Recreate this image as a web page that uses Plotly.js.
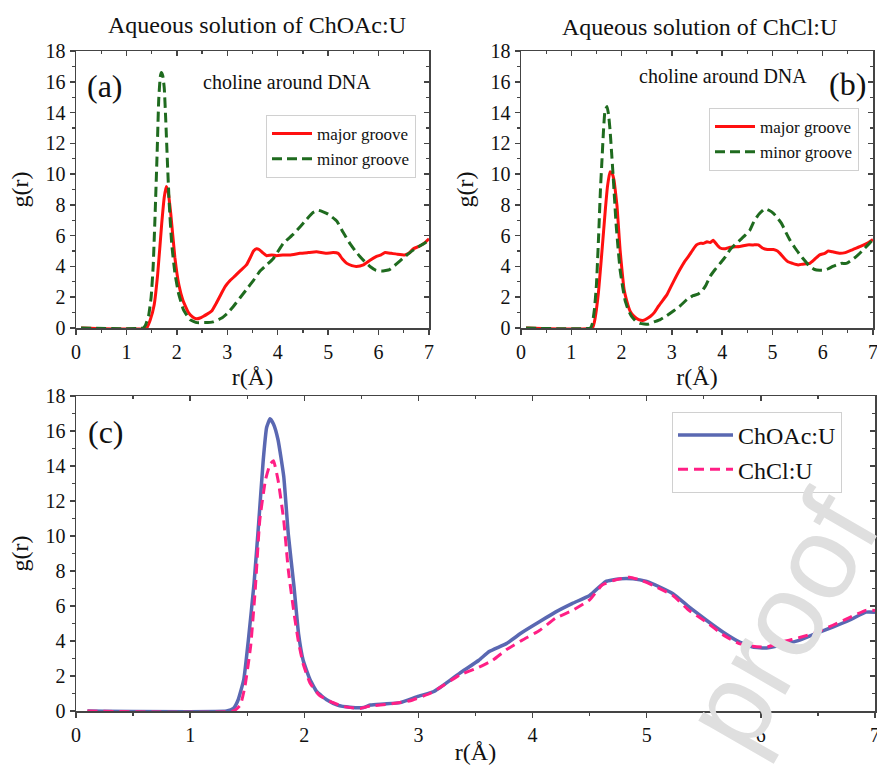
<!DOCTYPE html>
<html>
<head>
<meta charset="utf-8">
<script src="https://cdn.plot.ly/plotly-3.0.1.min.js"></script>
<style>html,body{margin:0;padding:0;background:#fff;}#chart{width:877px;height:765px;}</style>
</head>
<body>
<div id="chart"></div>
<script>
// ---------- Data ----------
// Panel (a): aqueous ChOAc:U, choline around DNA
const aMajorR = [0.1,1.4,1.47,1.55,1.62,1.70,1.75,1.79,1.83,1.88,1.96,2.04,2.12,2.23,2.32,2.39,2.46,2.52,2.6,2.69,2.78,2.86,2.96,3.06,3.16,3.25,3.38,3.46,3.52,3.58,3.63,3.7,3.78,3.88,3.98,4.1,4.24,4.44,4.6,4.77,4.95,5.1,5.2,5.28,5.37,5.47,5.56,5.7,5.83,5.96,6.05,6.13,6.25,6.36,6.52,6.6,6.69,6.8,6.9,7.0];
const aMajorG = [0,0,0.5,1.5,3.5,6.8,8.5,9.2,8.8,7.4,4.6,2.8,1.8,1.0,0.7,0.6,0.65,0.75,0.9,1.1,1.6,2.1,2.7,3.1,3.4,3.7,4.1,4.6,5.0,5.15,5.1,4.9,4.7,4.75,4.7,4.75,4.75,4.85,4.9,4.95,4.85,4.9,4.85,4.5,4.2,4.05,4.0,4.1,4.4,4.65,4.75,4.9,4.85,4.8,4.75,4.85,5.15,5.3,5.5,5.8];
const aMinorR = [0.1,1.33,1.38,1.44,1.49,1.53,1.57,1.61,1.64,1.67,1.69,1.72,1.75,1.78,1.81,1.85,1.9,1.96,2.03,2.13,2.26,2.4,2.55,2.72,2.89,3.0,3.12,3.25,3.38,3.52,3.65,3.78,3.91,4.01,4.11,4.31,4.45,4.57,4.7,4.8,4.9,5.0,5.17,5.3,5.43,5.53,5.63,5.73,5.83,5.95,6.06,6.22,6.35,6.49,6.62,6.75,6.88,7.0];
const aMinorG = [0,0,0.2,0.8,2.0,4.0,7.5,11.5,14.8,16.3,16.6,16.4,15.6,13.5,11.0,8.0,5.4,3.6,2.3,1.2,0.55,0.35,0.35,0.4,0.65,0.95,1.4,1.95,2.5,3.1,3.7,4.1,4.5,5.0,5.5,6.1,6.6,7.05,7.5,7.65,7.55,7.4,6.95,6.2,5.5,5.05,4.65,4.3,4.0,3.75,3.7,3.8,4.15,4.55,4.9,5.2,5.45,5.7];

// Panel (b): aqueous ChCl:U, choline around DNA
const bMajorR = [0.1,1.42,1.46,1.5,1.54,1.59,1.64,1.68,1.72,1.77,1.81,1.85,1.88,1.91,1.94,1.97,2.01,2.05,2.1,2.17,2.25,2.34,2.44,2.5,2.57,2.65,2.73,2.82,2.9,3.03,3.16,3.25,3.33,3.42,3.49,3.56,3.63,3.7,3.76,3.82,3.9,3.96,4.06,4.16,4.35,4.5,4.62,4.72,4.8,4.9,5.02,5.1,5.15,5.23,5.31,5.4,5.51,5.6,5.74,5.85,5.94,6.04,6.11,6.2,6.34,6.45,6.6,6.75,6.88,7.0];
const bMajorG = [0,0,0.4,1.2,2.3,4.2,6.2,7.8,9.2,10.15,10.05,9.6,8.8,7.9,6.5,5.1,3.7,2.5,1.8,1.1,0.75,0.55,0.5,0.6,0.75,1.0,1.4,1.8,2.15,3.0,3.8,4.3,4.65,5.1,5.4,5.5,5.5,5.6,5.55,5.7,5.4,5.2,5.15,5.25,5.3,5.4,5.4,5.4,5.2,5.1,5.1,5.0,4.85,4.55,4.3,4.2,4.1,4.15,4.2,4.5,4.75,4.85,5.0,4.95,4.85,4.9,5.1,5.3,5.5,5.75];
const bMinorR = [0.1,1.38,1.42,1.46,1.5,1.54,1.58,1.61,1.64,1.67,1.71,1.74,1.77,1.8,1.83,1.86,1.89,1.93,1.97,2.02,2.07,2.13,2.2,2.28,2.37,2.53,2.65,2.77,2.9,3.03,3.17,3.3,3.42,3.52,3.6,3.68,3.76,3.86,3.96,4.06,4.16,4.25,4.35,4.45,4.55,4.63,4.72,4.85,4.93,5.02,5.1,5.18,5.27,5.35,5.45,5.55,5.65,5.74,5.84,5.94,6.03,6.11,6.2,6.27,6.37,6.47,6.57,6.67,6.78,6.9,7.0];
const bMinorG = [0,0,0.3,1.2,2.8,5.7,9.0,10.9,12.8,14.1,14.4,13.9,12.9,11.5,10.0,8.4,6.8,5.2,3.8,2.7,1.8,1.2,0.75,0.45,0.3,0.25,0.4,0.55,0.8,1.1,1.45,1.85,2.1,2.2,2.4,2.8,3.35,3.8,4.2,4.6,5.1,5.4,5.7,6.0,6.35,6.9,7.35,7.75,7.65,7.45,7.15,6.8,6.2,5.7,5.2,4.75,4.35,4.0,3.8,3.75,3.75,3.85,4.0,4.1,4.2,4.2,4.4,4.65,5.0,5.4,5.75];

// Panel (c): minor groove comparison
const cChOAcR = [0.1,1.32,1.38,1.42,1.47,1.51,1.56,1.6,1.64,1.67,1.7,1.73,1.77,1.82,1.86,1.91,1.95,1.99,2.05,2.11,2.2,2.29,2.4,2.52,2.58,2.7,2.84,2.99,3.13,3.18,3.36,3.53,3.62,3.77,3.91,4.06,4.2,4.35,4.5,4.64,4.76,4.88,5.0,5.11,5.23,5.37,5.52,5.67,5.81,5.93,6.05,6.19,6.34,6.49,6.63,6.78,6.92,7.0];
const cChOAcG = [0,0,0.15,0.63,1.8,4.05,7.3,10.7,14.3,16.2,16.7,16.4,15.5,13.4,10.1,7.1,4.4,2.9,1.8,1.1,0.63,0.34,0.22,0.2,0.34,0.4,0.48,0.82,1.1,1.3,2.15,2.9,3.4,3.85,4.5,5.1,5.65,6.15,6.6,7.4,7.55,7.55,7.4,7.1,6.7,5.95,5.2,4.5,3.95,3.65,3.6,3.8,4.05,4.45,4.8,5.2,5.65,5.65];
const cChClR = [0.1,1.38,1.44,1.48,1.53,1.57,1.61,1.66,1.7,1.73,1.77,1.82,1.86,1.91,1.95,1.99,2.05,2.13,2.23,2.35,2.49,2.58,2.75,2.93,3.1,3.18,3.36,3.53,3.65,3.77,3.91,4.06,4.2,4.35,4.5,4.61,4.73,4.85,4.96,5.08,5.23,5.37,5.52,5.67,5.81,5.93,6.05,6.19,6.34,6.49,6.63,6.78,6.92,7.0];
const cChClG = [0,0,0.34,1.4,3.7,6.9,10.9,13.2,14.1,14.3,13.2,10.9,8.05,5.6,3.9,2.7,1.6,0.91,0.53,0.25,0.15,0.29,0.4,0.59,1.0,1.3,2.05,2.5,2.9,3.5,4.05,4.6,5.3,5.75,6.35,7.2,7.5,7.65,7.45,7.1,6.6,5.75,5.1,4.35,3.85,3.7,3.65,3.95,4.2,4.5,4.9,5.35,5.75,5.75];

const xTicks = [0,1,2,3,4,5,6,7];
const yTicks = [0,2,4,6,8,10,12,14,16,18];

// ---------- Styling ----------
const F = '"Liberation Serif", "Times New Roman", serif';
const AX = '#444444';
const RED = '#ff1010', GREEN = '#1f6b1f', BLUE = '#5a68b2', PINK = '#ff1f85';

function line(x, y, name, color, dash, xa, ya, legend, width) {
  return {type:'scatter', mode:'lines', x:x, y:y, name:name, xaxis:xa, yaxis:ya, legend:legend,
    line:{color:color, width:width||3, dash:dash, shape:'spline', smoothing:0.4}, hoverinfo:'skip'};
}
function dummy(xa, ya) {
  return {type:'scatter', mode:'lines', x:[], y:[], xaxis:xa, yaxis:ya, showlegend:false, hoverinfo:'skip'};
}

const traces = [
  line(aMajorR, aMajorG, 'major groove', RED, 'solid', 'x', 'y', 'legend'),
  line(aMinorR, aMinorG, 'minor groove', GREEN, '10px,5px', 'x', 'y', 'legend'),
  line(bMajorR, bMajorG, 'major groove', RED, 'solid', 'x2', 'y2', 'legend2'),
  line(bMinorR, bMinorG, 'minor groove', GREEN, '10px,5px', 'x2', 'y2', 'legend2'),
  line(cChOAcR, cChOAcG, 'ChOAc:U', BLUE, 'solid', 'x3', 'y3', 'legend3', 3.5),
  line(cChClR, cChClG, 'ChCl:U', PINK, '10px,6px', 'x3', 'y3', 'legend3'),
  dummy('x4','y'), dummy('x','y4'),
  dummy('x5','y2'), dummy('x2','y5'),
  dummy('x6','y3'), dummy('x3','y6')
];

function mainX(domain, anchor, standoff) {
  return {domain:domain, anchor:anchor, range:[0,7], tickvals:xTicks, ticktext:xTicks.map(String),
    ticks:'outside', ticklen:5, tickwidth:1.5, tickcolor:AX, showline:true, linecolor:AX, linewidth:1.5,
    mirror:true, showgrid:false, zeroline:false, automargin:false, fixedrange:true,
    ticklabeloverflow:'allow',
    tickfont:{family:F, size:20, color:'#111'},
    minor:{dtick:0.5, tick0:0, ticks:'outside', ticklen:3, tickwidth:1.2, tickcolor:AX, showgrid:false},
    title:{text:'r(Å)', font:{family:F, size:24, color:'#111'}, standoff:standoff}};
}
function mainY(domain, anchor) {
  return {domain:domain, anchor:anchor, range:[0,18], tickvals:yTicks, ticktext:yTicks.map(String),
    ticks:'outside', ticklen:5, tickwidth:1.5, tickcolor:AX, showline:true, linecolor:AX, linewidth:1.5,
    mirror:true, showgrid:false, zeroline:false, automargin:false, fixedrange:true,
    ticklabeloverflow:'allow',
    tickfont:{family:F, size:20, color:'#111'},
    minor:{dtick:1, tick0:0, ticks:'outside', ticklen:3, tickwidth:1.2, tickcolor:AX, showgrid:false},
    title:{text:'g(r)', font:{family:F, size:24, color:'#111'}, standoff:10}};
}
function topX(over, anchor) {
  return {overlaying:over, anchor:anchor, side:'top', range:[0,7], tickvals:xTicks,
    ticks:'inside', ticklen:5, tickwidth:1.5, tickcolor:AX, showticklabels:false, showline:false,
    showgrid:false, zeroline:false, fixedrange:true,
    minor:{dtick:0.5, tick0:0, ticks:'inside', ticklen:3, tickwidth:1.2, tickcolor:AX, showgrid:false}};
}
function rightY(over, anchor) {
  return {overlaying:over, anchor:anchor, side:'right', range:[0,18], tickvals:yTicks,
    ticks:'inside', ticklen:5, tickwidth:1.5, tickcolor:AX, showticklabels:false, showline:false,
    showgrid:false, zeroline:false, fixedrange:true,
    minor:{dtick:1, tick0:0, ticks:'inside', ticklen:3, tickwidth:1.2, tickcolor:AX, showgrid:false}};
}

const W = 877, H = 765;
const px = v => v / W;
const py = v => 1 - v / H;

const domA = [px(76), px(429)], domB = [px(521), px(873)], domC = [px(76), px(875)];
const domTop = [py(328), py(51)], domBot = [py(711), py(396)];

function legendAt(left, top, size, iw) {
  return {x:px(left), y:py(top), xref:'paper', yref:'paper', xanchor:'left', yanchor:'top',
    bgcolor:'#ffffff', bordercolor:'#d0d0d0', borderwidth:1, font:{family:F, size:size, color:'#111'},
    tracegroupgap:0, itemwidth:iw, traceorder:'normal'};
}

function ann(text, x, y, size, extra) {
  return Object.assign({text:text, x:px(x), y:py(y), xref:'paper', yref:'paper', showarrow:false,
    xanchor:'center', yanchor:'middle', font:{family:F, size:size, color:'#111'}}, extra||{});
}

const layout = {
  width:W, height:H, margin:{l:0, r:0, t:0, b:0}, paper_bgcolor:'#fff', plot_bgcolor:'rgba(0,0,0,0)',
  font:{family:F, color:'#111'},
  showlegend:true, dragmode:false,
  xaxis: mainX(domA, 'y', 6), yaxis: mainY(domTop, 'x'),
  xaxis2: mainX(domB, 'y2', 6), yaxis2: mainY(domTop, 'x2'),
  xaxis3: mainX(domC, 'y3', 11), yaxis3: mainY(domBot, 'x3'),
  xaxis4: topX('x', 'y'), yaxis4: rightY('y', 'x'),
  xaxis5: topX('x2', 'y2'), yaxis5: rightY('y2', 'x2'),
  xaxis6: topX('x3', 'y3'), yaxis6: rightY('y3', 'x3'),
  legend: legendAt(266, 115, 17, 40),
  legend2: legendAt(709, 108, 17, 40),
  legend3: legendAt(672, 412, 24, 55),
  annotations: [
    ann('Aqueous solution of ChOAc:U', 257, 25, 24),
    ann('Aqueous solution of ChCl:U', 699, 27, 24),
    ann('(a)', 105, 86, 32),
    ann('(b)', 847, 84, 32),
    ann('(c)', 106, 432, 32),
    ann('choline around DNA', 287, 82, 20),
    ann('choline around DNA', 723, 76, 20),
    {text:'proof', x:px(780), y:py(622), xref:'paper', yref:'paper', showarrow:false,
     xanchor:'center', yanchor:'middle', textangle:-60,
     font:{family:'"Liberation Sans", Arial, sans-serif', size:118, color:'#dfdfdf'}}
  ]
};

Plotly.newPlot('chart', traces, layout, {staticPlot:true, displayModeBar:false});
</script>
</body>
</html>
